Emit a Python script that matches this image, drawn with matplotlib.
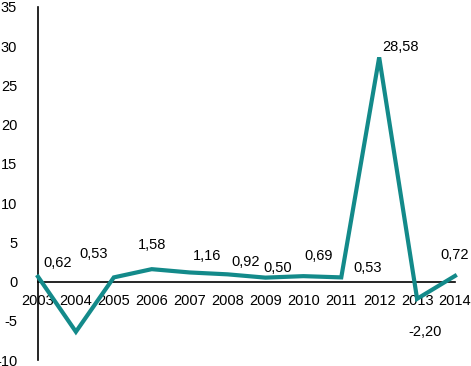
import matplotlib
matplotlib.use("Agg")
import matplotlib.pyplot as plt

years = ["2003", "2004", "2005", "2006", "2007", "2008", "2009", "2010", "2011", "2012", "2013", "2014"]
values = [0.62, -6.4, 0.53, 1.58, 1.16, 0.92, 0.50, 0.69, 0.53, 28.58, -2.20, 0.72]
labels = ["0,62", None, "0,53", "1,58", "1,16", "0,92", "0,50", "0,69", "0,53", "28,58", "-2,20", "0,72"]
y_ticks = [-10, -5, 0, 5, 10, 15, 20, 25, 30, 35]

# label offsets in pixels (dx, dy) - styling
offsets = [(20, 14), None, (-20, 23), (0, 24), (17, 16), (18, 12), (12, 10),
           (15, 20), (26, 9), (21, 10), (8, -33), (0, 21)]

plt.rcParams['font.family'] = ['Liberation Sans', 'DejaVu Sans']
W, H = 471, 366
fig = plt.figure(figsize=(W / 100, H / 100), dpi=100)
ax = fig.add_axes([38 / W, (H - 360) / H, (455 - 38) / W, (360 - 7) / H])

x = list(range(len(years)))
color = "#138a8a"
ax.plot(x, values, color=color, lw=3.0, solid_joinstyle='miter', clip_on=False, zorder=3)

ax.set_xlim(0, len(years) - 1)
ax.set_ylim(-10, 35)
ax.set_yticks(y_ticks)
ax.set_yticklabels([str(t) for t in y_ticks])

for s in ['top', 'right']:
    ax.spines[s].set_visible(False)
ax.spines['left'].set_linewidth(1.2)
ax.spines['bottom'].set_position(('data', 0))
ax.spines['bottom'].set_linewidth(1.2)

ax.set_xticks(x)
ax.set_xticklabels(years)
ax.set_xticks([2, 4, 6, 8, 10], minor=True)
ax.tick_params(axis='x', which='major', length=0, pad=9, labelsize=10.5)
ax.tick_params(axis='x', which='minor', length=5, width=1.2, direction='out')
ax.tick_params(axis='y', length=0, pad=15, labelsize=10.5)
for t in ax.get_xticklabels():
    t.set_zorder(5)

for xi, v, lab, off in zip(x, values, labels, offsets):
    if lab is None:
        continue
    ax.annotate(lab, (xi, v), xytext=off, textcoords='offset pixels',
                ha='center', va='center', fontsize=10.5, annotation_clip=False)

fig.savefig("out.png", dpi=100)
